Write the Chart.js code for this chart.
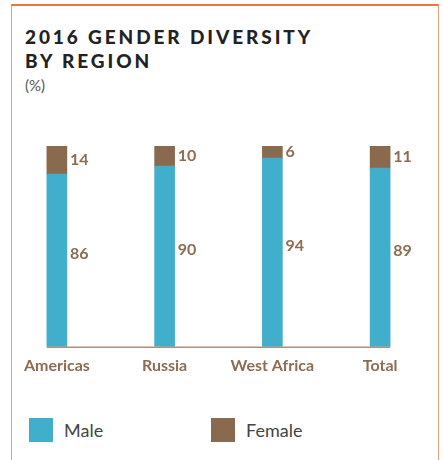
<!DOCTYPE html>
<html>
<head>
<meta charset="utf-8">
<script src="https://cdn.jsdelivr.net/npm/chart.js@4/dist/chart.umd.min.js"></script>
<style>
  html, body { margin:0; padding:0; background:#fff; width:443px; height:460px; overflow:hidden; }
  #frame { position:absolute; left:11px; top:4px; width:426px; height:470px; border:1.5px solid #EF9C78; border-top:2px solid #E9763F; }
  #title { position:absolute; left:25px; top:25px; font-family:Lato, sans-serif; font-weight:900; font-size:19px; line-height:24px; letter-spacing:2.9px; color:#222; }
  #unit { position:absolute; left:25px; top:76px; font-family:Lato, sans-serif; font-size:15px; color:#555; }
  #wrap { position:absolute; left:0; top:0; width:443px; height:390px; }
  #legend { position:absolute; top:418px; left:0; width:443px; height:24px; font-family:Lato, sans-serif; font-size:18px; color:#444; }
  .item { position:absolute; top:0; height:24px; line-height:24px; }
  .box { position:absolute; left:0; top:0; width:24px; height:24px; }
  .lab { position:absolute; left:35px; top:0; white-space:nowrap; }
</style>
</head>
<body>
<div id="frame"></div>
<div id="title">2016 GENDER DIVERSITY<br>BY REGION</div>
<div id="unit">(%)</div>
<div id="wrap"><canvas id="c" width="443" height="390"></canvas></div>
<div id="legend"></div>
<script>
const categories = ["Americas", "Russia", "West Africa", "Total"];
const maleValues = [86, 90, 94, 89];
const femaleValues = [14, 10, 6, 11];
const seriesNames = ["Male", "Female"];
const seriesColors = ["#41AFCB", "#8A6A4E"];

const labelPlugin = {
  id: 'valueLabels',
  afterDatasetsDraw(chart) {
    const ctx = chart.ctx;
    ctx.save();
    ctx.font = 'bold 16px Lato, sans-serif';
    ctx.fillStyle = '#8C6D52';
    ctx.textAlign = 'left';
    ctx.textBaseline = 'middle';
    chart.data.datasets.forEach((ds, di) => {
      const meta = chart.getDatasetMeta(di);
      meta.data.forEach((bar, i) => {
        const p = bar.getProps(['x','y','base','width'], true);
        let cy = (p.y + p.base) / 2;
        if (di === 0) cy -= 7;
        ctx.fillText(String(ds.data[i]), p.x + p.width / 2 + 3, cy);
      });
    });
    const m = chart.getDatasetMeta(0).data;
    const first = m[0].getProps(['x','width'], true);
    const last = m[m.length-1].getProps(['x','width'], true);
    ctx.strokeStyle = '#A8927E';
    ctx.lineWidth = 1.5;
    ctx.beginPath();
    ctx.moveTo(first.x - first.width/2, chart.chartArea.bottom + 0.5);
    ctx.lineTo(last.x + last.width/2, chart.chartArea.bottom + 0.5);
    ctx.stroke();
    ctx.restore();
  }
};

const chart = new Chart(document.getElementById('c'), {
  type: 'bar',
  data: {
    labels: categories,
    datasets: [
      { label: seriesNames[0], data: maleValues, backgroundColor: seriesColors[0] },
      { label: seriesNames[1], data: femaleValues, backgroundColor: seriesColors[1] }
    ]
  },
  options: {
    responsive: false,
    animation: false,
    events: [],
    layout: { padding: { left: 3, right: 9, top: 146, bottom: 6 } },
    plugins: { legend: { display: false }, tooltip: { enabled: false }, title: { display: false } },
    datasets: { bar: { barThickness: 20 } },
    scales: {
      x: {
        stacked: true,
        grid: { display: false, drawTicks: false },
        border: { display: false },
        ticks: { padding: 9, color: '#8C6D52', font: { family: 'Lato, sans-serif', weight: 'bold', size: 16 } }
      },
      y: { stacked: true, min: 0, max: 100, display: false }
    }
  },
  plugins: [labelPlugin]
});

const legendPositions = [29, 211];
const leg = document.getElementById('legend');
chart.data.datasets.forEach((ds, i) => {
  const it = document.createElement('div');
  it.className = 'item';
  it.style.left = legendPositions[i] + 'px';
  it.innerHTML = '<div class="box" style="background:' + ds.backgroundColor + '"></div><div class="lab">' + ds.label + '</div>';
  leg.appendChild(it);
});
</script>
</body>
</html>
